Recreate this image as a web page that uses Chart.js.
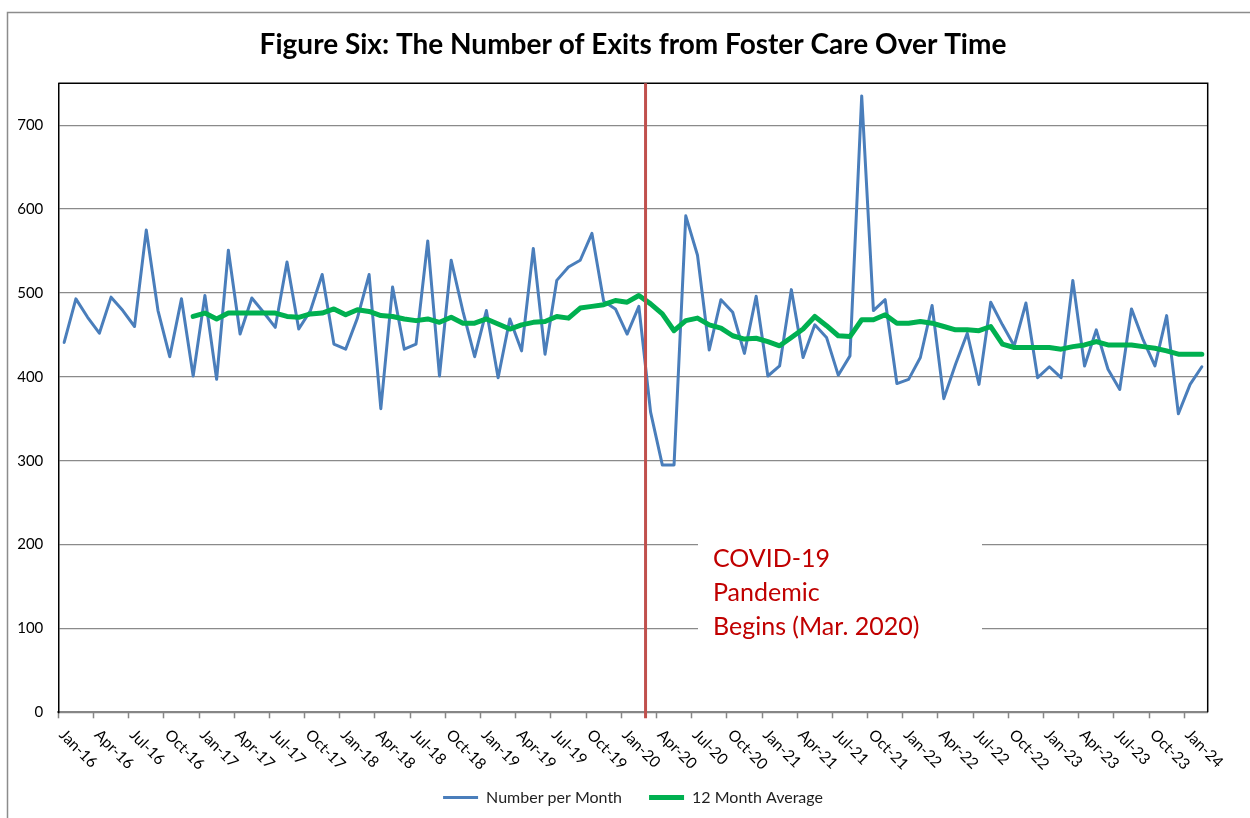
<!DOCTYPE html>
<html>
<head>
<meta charset="utf-8">
<title>Exits from Foster Care</title>
<script src="https://cdn.jsdelivr.net/npm/chart.js@4.4.1/dist/chart.umd.min.js"></script>
<style>
  html, body { margin: 0; padding: 0; background: #fff; overflow: hidden; }
  #wrap { position: relative; width: 1250px; height: 818px; }
</style>
</head>
<body>
<div id="wrap"><canvas id="exitsChart"></canvas></div>
<script>
const months = [
  'Jan-16','Feb-16','Mar-16','Apr-16','May-16','Jun-16','Jul-16','Aug-16','Sep-16','Oct-16','Nov-16','Dec-16',
  'Jan-17','Feb-17','Mar-17','Apr-17','May-17','Jun-17','Jul-17','Aug-17','Sep-17','Oct-17','Nov-17','Dec-17',
  'Jan-18','Feb-18','Mar-18','Apr-18','May-18','Jun-18','Jul-18','Aug-18','Sep-18','Oct-18','Nov-18','Dec-18',
  'Jan-19','Feb-19','Mar-19','Apr-19','May-19','Jun-19','Jul-19','Aug-19','Sep-19','Oct-19','Nov-19','Dec-19',
  'Jan-20','Feb-20','Mar-20','Apr-20','May-20','Jun-20','Jul-20','Aug-20','Sep-20','Oct-20','Nov-20','Dec-20',
  'Jan-21','Feb-21','Mar-21','Apr-21','May-21','Jun-21','Jul-21','Aug-21','Sep-21','Oct-21','Nov-21','Dec-21',
  'Jan-22','Feb-22','Mar-22','Apr-22','May-22','Jun-22','Jul-22','Aug-22','Sep-22','Oct-22','Nov-22','Dec-22',
  'Jan-23','Feb-23','Mar-23','Apr-23','May-23','Jun-23','Jul-23','Aug-23','Sep-23','Oct-23','Nov-23','Dec-23',
  'Jan-24','Feb-24'
];

// exits per month
const perMonth = [
  441, 493, 471, 452, 495, 479, 460, 575, 479, 424, 493, 401,
  497, 397, 551, 451, 494, 477, 459, 537, 457, 479, 522, 439,
  433, 470, 522, 362, 507, 433, 439, 562, 401, 539, 478, 424,
  479, 399, 469, 431, 553, 427, 515, 531, 539, 571, 490, 481,
  451, 484, 358, 295, 295, 592, 545, 432, 492, 477, 428, 496,
  401, 413, 504, 423, 462, 447, 402, 425, 735, 479, 492, 392,
  397, 423, 485, 374, 415, 452, 391, 489, 462, 437, 488, 399,
  412, 399, 515, 413, 456, 409, 385, 481, 444, 413, 473, 356,
  391, 412
];

// rolling 12 month average (starts Dec-16)
const avg12 = [
  null, null, null, null, null, null, null, null, null, null, null, 472,
  476, 469, 476, 476, 476, 476, 476, 472, 471, 475, 476, 481,
  474, 480, 478, 473, 472, 469, 467, 469, 465, 471, 464, 464,
  469, 463, 457, 462, 465, 466, 472, 470, 482, 484, 486, 491,
  489, 497, 487, 475, 455, 467, 470, 462, 458, 449, 445, 446,
  442, 437, 447, 457, 472, 461, 449, 448, 468, 468, 474, 464,
  464, 466, 464, 460, 456, 456, 455, 460, 439, 435, 435, 435,
  435, 433, 436, 438, 442, 438, 438, 438, 436, 434, 431, 427,
  427, 427
];

const tickEvery = 3;          // label every quarter
const covidPos = 49.57;       // category position of the pandemic marker
const covidNote = ['COVID-19', 'Pandemic', 'Begins (Mar. 2020)'];

const FONT = 'Lato';

// 外枠・マーカー・注記・x軸ラベル
const decorPlugin = {
  id: 'decor',
  beforeDraw(chart) {
    const { ctx } = chart;
    ctx.save();
    ctx.strokeStyle = '#8c8c8c';
    ctx.lineWidth = 1.5;
    ctx.beginPath();
    ctx.moveTo(7.5, chart.height);
    ctx.lineTo(7.5, 12.5);
    ctx.lineTo(chart.width, 12.5);
    ctx.stroke();
    ctx.restore();
  },
  afterDatasetsDraw(chart) {
    const { ctx, chartArea: a, scales: { x, y } } = chart;
    ctx.save();

    // plot box: top and right edges
    ctx.strokeStyle = '#000';
    ctx.lineWidth = 1.5;
    ctx.beginPath();
    ctx.moveTo(a.left, a.top);
    ctx.lineTo(a.right, a.top);
    ctx.lineTo(a.right, a.bottom);
    ctx.stroke();

    // pandemic marker
    const i0 = Math.floor(covidPos);
    const p0 = x.getPixelForValue(i0);
    const p1 = x.getPixelForValue(i0 + 1);
    const cx = p0 + (p1 - p0) * (covidPos - i0);
    ctx.strokeStyle = '#c0504d';
    ctx.lineWidth = 3;
    ctx.beginPath();
    ctx.moveTo(cx, a.top);
    ctx.lineTo(cx, a.bottom + 6);
    ctx.stroke();

    // note box
    const bx = 698, bw = 284;
    const by = y.getPixelForValue(215), bb = y.getPixelForValue(80);
    ctx.fillStyle = '#fff';
    ctx.fillRect(bx, by, bw, bb - by);
    ctx.fillStyle = '#c00000';
    ctx.font = '25px ' + FONT;
    ctx.textAlign = 'left';
    ctx.textBaseline = 'alphabetic';
    covidNote.forEach((line, k) => {
      ctx.fillText(line, bx + 15, 567 + k * 34);
    });

    // rotated month labels
    const half = (x.getPixelForValue(1) - x.getPixelForValue(0)) / 2;
    ctx.fillStyle = '#000';
    ctx.font = '15.5px ' + FONT;
    ctx.textAlign = 'left';
    ctx.textBaseline = 'middle';
    months.forEach((m, i) => {
      if (i % tickEvery) return;
      const tx = x.getPixelForValue(i) - half;
      ctx.save();
      ctx.translate(tx + 3.5, a.bottom + 20);
      ctx.rotate(Math.PI / 4);
      ctx.fillText(m, 0, 0);
      ctx.restore();
    });

    ctx.restore();
  }
};

const ctx = document.getElementById('exitsChart').getContext('2d');
new Chart(ctx, {
  type: 'line',
  data: {
    labels: months,
    datasets: [
      {
        label: 'Number per Month',
        data: perMonth,
        borderColor: '#4a7ebb',
        backgroundColor: '#4a7ebb',
        borderWidth: 3,
        pointRadius: 0,
        tension: 0,
        borderJoinStyle: 'round',
        borderCapStyle: 'round',
        order: 2
      },
      {
        label: '12 Month Average',
        data: avg12,
        borderColor: '#00b050',
        backgroundColor: '#00b050',
        borderWidth: 5,
        pointRadius: 0,
        tension: 0,
        borderJoinStyle: 'round',
        borderCapStyle: 'round',
        order: 1
      }
    ]
  },
  options: {
    responsive: true,
    maintainAspectRatio: false,
    animation: false,
    layout: { padding: { top: 12, left: 10, right: 42.3, bottom: 2.5 } },
    plugins: {
      tooltip: { enabled: false },
      title: {
        display: true,
        fullSize: false,
        text: 'Figure Six: The Number of Exits from Foster Care Over Time',
        color: '#000',
        font: { family: FONT, size: 28, weight: 'bold' },
        padding: { top: 16.2, bottom: 21.5 }
      },
      legend: {
        position: 'bottom',
        fullSize: false,
        labels: {
          usePointStyle: true,
          pointStyle: 'line',
          pointStyleWidth: 35,
          color: '#1f1f1f',
          font: { family: FONT, size: 16 },
          padding: 27,
          sort: (a, b) => a.datasetIndex - b.datasetIndex
        }
      }
    },
    scales: {
      x: {
        type: 'category',
        offset: true,
        grid: {
          offset: true,
          drawOnChartArea: false,
          drawTicks: true,
          tickLength: 6,
          tickWidth: 1.5,
          color: c => (c.index % tickEvery === 0 ? '#868686' : 'rgba(0,0,0,0)'),
          tickColor: c => (c.index % tickEvery === 0 ? '#868686' : 'rgba(0,0,0,0)')
        },
        border: { color: '#868686', width: 2 },
        ticks: { display: false, autoSkip: false },
        afterFit: s => { s.height = 50.2; }
      },
      y: {
        min: 0,
        max: 750,
        ticks: {
          stepSize: 100,
          padding: 15,
          color: '#000',
          font: { family: FONT, size: 15 }
        },
        afterBuildTicks: s => { s.ticks = s.ticks.filter(t => t.value <= 700); },
        grid: { color: '#8a8a8a', lineWidth: 1.3, drawTicks: false },
        border: { color: '#000', width: 1.5 },
        afterFit: s => { s.width = 48.3; }
      }
    }
  },
  plugins: [decorPlugin]
});
</script>
</body>
</html>
